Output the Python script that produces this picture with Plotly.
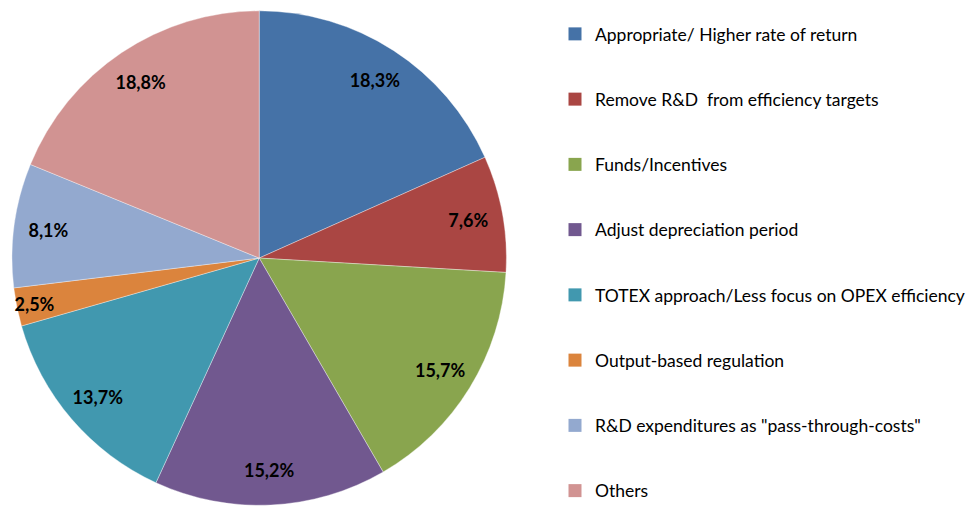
import plotly.graph_objects as go

categories = [
    "Appropriate/ Higher rate of return",
    "Remove R&D  from efficiency targets",
    "Funds/Incentives",
    "Adjust depreciation period",
    "TOTEX approach/Less focus on OPEX efficiency",
    "Output-based regulation",
    "R&D expenditures as \"pass-through-costs\"",
    "Others",
]
values = [18.3, 7.6, 15.7, 15.2, 13.7, 2.5, 8.1, 18.8]
value_labels = ["18,3%", "7,6%", "15,7%", "15,2%", "13,7%", "2,5%", "8,1%", "18,8%"]
colors = ["#4572A7", "#AA4643", "#89A54E", "#71588F", "#4198AF", "#DB843D", "#93A9CF", "#D19392"]

dom = dict(x=[0.0124, 0.5237], y=[0.002, 0.984])

fig = go.Figure()
# coloured slices
fig.add_trace(go.Pie(
    labels=categories, values=values, text=value_labels,
    textinfo="none",
    marker=dict(colors=colors, line=dict(color="rgba(255,255,255,0.6)", width=0.6)),
    sort=False, direction="clockwise", rotation=0,
    domain=dom, showlegend=False, hoverinfo="label+text",
))
# transparent ring overlay, used only to place labels near the outer edge
fig.add_trace(go.Pie(
    labels=categories, values=values, text=value_labels,
    textinfo="text", textposition="inside", insidetextorientation="horizontal",
    textfont=dict(family="Lato", size=18, color="black", weight="bold"),
    marker=dict(colors=["rgba(0,0,0,0)"] * len(values), line=dict(width=0)),
    hole=0.72, sort=False, direction="clockwise", rotation=0,
    domain=dom, showlegend=False, hoverinfo="skip",
))
for i, (c, col) in enumerate(zip(categories, colors)):
    fig.add_trace(go.Scatter(
        x=[None], y=[None], mode="markers", name=c, legendgroup=f"g{i}",
        marker=dict(symbol="square", size=13, color=col),
        showlegend=True,
    ))

fig.update_layout(
    width=970, height=509,
    margin=dict(l=0, r=0, t=0, b=0),
    paper_bgcolor="white", plot_bgcolor="white",
    xaxis=dict(visible=False), yaxis=dict(visible=False),
    uniformtext=dict(minsize=18, mode="show"),
    legend=dict(
        x=0.574, y=0.897, xanchor="left", yanchor="top",
        font=dict(family="Lato", size=17.5, color="black"),
        tracegroupgap=39.5, itemwidth=30,
        bgcolor="rgba(0,0,0,0)",
    ),
)
fig.write_html(
    "out.html",
    config={"displayModeBar": False},
    post_script="document.body.style.margin='0';document.body.style.overflow='hidden';",
)
